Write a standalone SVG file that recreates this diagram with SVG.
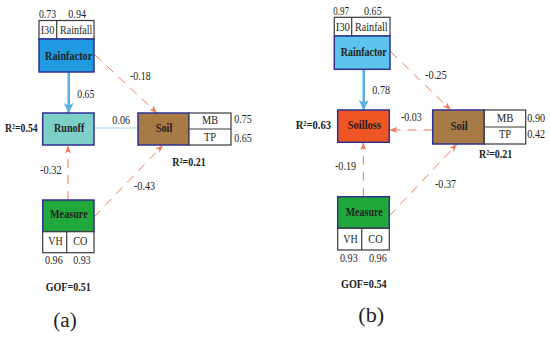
<svg xmlns="http://www.w3.org/2000/svg" width="550" height="338" viewBox="0 0 550 338">
<style>
text{font-family:"Liberation Serif","Times New Roman",serif;fill:#231f20}
.n{font-size:13px}
.b{font-size:13px;font-weight:bold}
.cap{font-size:20px}
.node{stroke:#2e3192;stroke-width:1.5}
.ind{fill:#fff;stroke:#3a3a3a;stroke-width:1.2}
.blue{stroke:#5aaee8;stroke-width:2.5;fill:none}
.thin{stroke:#a9d3f2;stroke-width:1.2;fill:none}
.dash{stroke:#f47b55;stroke-width:1;fill:none;stroke-dasharray:9 7}
</style>
<defs>
<marker id="ab" markerUnits="userSpaceOnUse" markerWidth="10" markerHeight="11" refX="10" refY="5" orient="auto">
<path d="M0,0 L10,5 L0,10 L2.5,5 Z" fill="#5aaee8"/>
</marker>
<marker id="ao" markerUnits="userSpaceOnUse" markerWidth="8" markerHeight="7" refX="8" refY="3" orient="auto">
<path d="M0,0 L8,3 L0,6 L2,3 Z" fill="#f47b55"/>
</marker>
</defs>

<g id="connectors">
<line class="blue" x1="68.7" y1="72" x2="68.7" y2="113" marker-end="url(#ab)"/>
<line class="thin" x1="138" y1="128" x2="94" y2="128"/>
<line class="dash" x1="95" y1="55" x2="157" y2="113" marker-end="url(#ao)"/>
<line class="dash" x1="68" y1="200" x2="68" y2="145.5" marker-end="url(#ao)"/>
<line class="dash" x1="94" y1="217" x2="163" y2="145" marker-end="url(#ao)"/>
<line class="blue" x1="363.7" y1="69.3" x2="363.7" y2="110" marker-end="url(#ab)"/>
<line class="dash" x1="390.7" y1="51.7" x2="450.7" y2="110" marker-end="url(#ao)"/>
<line class="dash" x1="432.7" y1="130" x2="389.3" y2="130" marker-end="url(#ao)"/>
<line class="dash" x1="363.3" y1="196.7" x2="363.3" y2="142.3" marker-end="url(#ao)"/>
<line class="dash" x1="389.3" y1="216" x2="457" y2="144" marker-end="url(#ao)"/>
<text class="n" x="77.3" y="98.3" textLength="17" lengthAdjust="spacingAndGlyphs">0.65</text>
<text class="n" x="130" y="80" textLength="20.7" lengthAdjust="spacingAndGlyphs">-0.18</text>
<text class="n" x="112.3" y="124" textLength="17.7" lengthAdjust="spacingAndGlyphs">0.06</text>
<text class="n" x="40" y="174" textLength="21.7" lengthAdjust="spacingAndGlyphs">-0.32</text>
<text class="n" x="134" y="190" textLength="21" lengthAdjust="spacingAndGlyphs">-0.43</text>
<text class="n" x="372.3" y="94" textLength="17.7" lengthAdjust="spacingAndGlyphs">0.78</text>
<text class="n" x="425" y="79.3" textLength="21.7" lengthAdjust="spacingAndGlyphs">-0.25</text>
<text class="n" x="401" y="120.7" textLength="20.7" lengthAdjust="spacingAndGlyphs">-0.03</text>
<text class="n" x="335" y="170" textLength="21" lengthAdjust="spacingAndGlyphs">-0.19</text>
<text class="n" x="435" y="188.3" textLength="21" lengthAdjust="spacingAndGlyphs">-0.37</text>
</g>

<g id="a-rainfactor">
<text class="n" x="39" y="18.3" textLength="17" lengthAdjust="spacingAndGlyphs">0.73</text>
<text class="n" x="68.3" y="18.3" textLength="17.7" lengthAdjust="spacingAndGlyphs">0.94</text>
<rect class="ind" x="39" y="20.5" width="55" height="18.5"/>
<line class="ind" x1="56.7" y1="20.5" x2="56.7" y2="39"/>
<text class="n" x="40.7" y="33.7" textLength="13.6" lengthAdjust="spacingAndGlyphs">I30</text>
<text class="n" x="60" y="33.7" textLength="32.3" lengthAdjust="spacingAndGlyphs">Rainfall</text>
<rect class="node" x="39" y="39" width="55" height="33" fill="#1f9ae0"/>
<text class="b" x="45" y="60" textLength="47.3" lengthAdjust="spacingAndGlyphs">Rainfactor</text>
</g>

<g id="a-runoff">
<rect class="node" x="42.7" y="113" width="51.3" height="32" fill="#7ecfc8"/>
<text class="b" x="54" y="132.3" textLength="30.3" lengthAdjust="spacingAndGlyphs">Runoff</text>
<text class="b" x="5" y="132.3" textLength="32.7" lengthAdjust="spacingAndGlyphs">R²=0.54</text>
</g>

<g id="a-soil">
<rect class="node" x="138" y="113" width="51" height="32" fill="#a87a45"/>
<text class="b" x="155.7" y="132.3" textLength="16.6" lengthAdjust="spacingAndGlyphs">Soil</text>
<rect class="ind" x="189" y="113" width="42" height="32"/>
<line class="ind" x1="189" y1="129" x2="231" y2="129"/>
<text class="n" x="202" y="124" textLength="16" lengthAdjust="spacingAndGlyphs">MB</text>
<text class="n" x="204" y="140.7" textLength="12" lengthAdjust="spacingAndGlyphs">TP</text>
<text class="n" x="234.3" y="123.3" textLength="17.4" lengthAdjust="spacingAndGlyphs">0.75</text>
<text class="n" x="234.3" y="141.7" textLength="17.4" lengthAdjust="spacingAndGlyphs">0.65</text>
<text class="b" x="172.3" y="165.7" textLength="33.4" lengthAdjust="spacingAndGlyphs">R²=0.21</text>
</g>

<g id="a-measure">
<rect class="node" x="42.7" y="200" width="51.3" height="31.7" fill="#20a83a"/>
<text class="b" x="50" y="218.3" textLength="37.7" lengthAdjust="spacingAndGlyphs">Measure</text>
<rect class="ind" x="42.7" y="231.7" width="51.3" height="21"/>
<line class="ind" x1="66.7" y1="231.7" x2="66.7" y2="252.7"/>
<text class="n" x="48.3" y="245" textLength="14.4" lengthAdjust="spacingAndGlyphs">VH</text>
<text class="n" x="73.3" y="245" textLength="14" lengthAdjust="spacingAndGlyphs">CO</text>
<text class="n" x="45" y="264" textLength="17.7" lengthAdjust="spacingAndGlyphs">0.96</text>
<text class="n" x="73.3" y="264" textLength="17.4" lengthAdjust="spacingAndGlyphs">0.93</text>
</g>

<text class="b" x="45.7" y="290.7" textLength="45" lengthAdjust="spacingAndGlyphs">GOF=0.51</text>
<text class="cap" x="53.3" y="326.7" textLength="23.4" lengthAdjust="spacingAndGlyphs">(a)</text>

<g id="b-rainfactor">
<text class="n" x="333.3" y="15" textLength="15.7" lengthAdjust="spacingAndGlyphs">0.97</text>
<text class="n" x="364" y="15" textLength="17.7" lengthAdjust="spacingAndGlyphs">0.65</text>
<rect class="ind" x="334.3" y="17.3" width="55.7" height="18.7"/>
<line class="ind" x1="351.7" y1="17.3" x2="351.7" y2="36"/>
<text class="n" x="335.7" y="30.7" textLength="14.3" lengthAdjust="spacingAndGlyphs">I30</text>
<text class="n" x="355" y="30.7" textLength="32.7" lengthAdjust="spacingAndGlyphs">Rainfall</text>
<rect class="node" x="334.3" y="36" width="55.7" height="33.3" fill="#5cc4ec"/>
<text class="b" x="340.7" y="56" textLength="46" lengthAdjust="spacingAndGlyphs">Rainfactor</text>
</g>

<g id="b-soilloss">
<rect class="node" x="337.7" y="110" width="51.6" height="32.3" fill="#f05524"/>
<text class="b" x="347.7" y="129.3" textLength="33.3" lengthAdjust="spacingAndGlyphs">Soilloss</text>
<text class="b" x="295.7" y="129.3" textLength="35.3" lengthAdjust="spacingAndGlyphs">R²=0.63</text>
</g>

<g id="b-soil">
<rect class="node" x="432.7" y="110" width="51.6" height="34" fill="#a87a45"/>
<text class="b" x="450.7" y="130" textLength="17" lengthAdjust="spacingAndGlyphs">Soil</text>
<rect class="ind" x="484.3" y="110" width="41.4" height="34"/>
<line class="ind" x1="484.3" y1="127" x2="525.7" y2="127"/>
<text class="n" x="496.7" y="121.7" textLength="16.6" lengthAdjust="spacingAndGlyphs">MB</text>
<text class="n" x="499" y="138.3" textLength="12" lengthAdjust="spacingAndGlyphs">TP</text>
<text class="n" x="527.3" y="121.7" textLength="17.7" lengthAdjust="spacingAndGlyphs">0.90</text>
<text class="n" x="527.3" y="138.3" textLength="17.7" lengthAdjust="spacingAndGlyphs">0.42</text>
<text class="b" x="479" y="158.3" textLength="33.3" lengthAdjust="spacingAndGlyphs">R²=0.21</text>
</g>

<g id="b-measure">
<rect class="node" x="337.7" y="196.7" width="51.6" height="31.6" fill="#20a83a"/>
<text class="b" x="345.7" y="215.7" textLength="37" lengthAdjust="spacingAndGlyphs">Measure</text>
<rect class="ind" x="337.7" y="228.3" width="51.6" height="21.7"/>
<line class="ind" x1="361.7" y1="228.3" x2="361.7" y2="250"/>
<text class="n" x="343.3" y="242.7" textLength="14.4" lengthAdjust="spacingAndGlyphs">VH</text>
<text class="n" x="368.3" y="242.7" textLength="14.4" lengthAdjust="spacingAndGlyphs">CO</text>
<text class="n" x="340" y="261.7" textLength="17.7" lengthAdjust="spacingAndGlyphs">0.93</text>
<text class="n" x="369" y="261.7" textLength="17.7" lengthAdjust="spacingAndGlyphs">0.96</text>
</g>

<text class="b" x="341" y="288.3" textLength="45.7" lengthAdjust="spacingAndGlyphs">GOF=0.54</text>
<text class="cap" x="358.3" y="321.7" textLength="26" lengthAdjust="spacingAndGlyphs">(b)</text>
</svg>
